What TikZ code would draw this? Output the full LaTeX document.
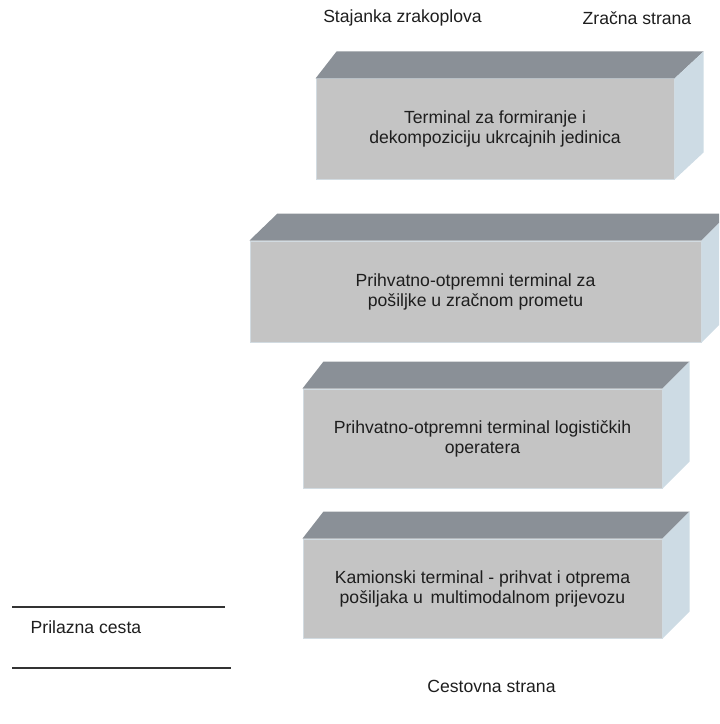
\documentclass[tikz,border=0pt]{standalone}
\usepackage{fontspec}
\setmainfont{Liberation Sans}
\usepackage{tikz}
\usetikzlibrary{positioning, calc}

\definecolor{frontgray}{HTML}{C4C4C4}
\definecolor{topgray}{HTML}{8A9097}
\definecolor{sideblue}{HTML}{CDDBE4}
\definecolor{edgeblue}{HTML}{D2DBE1}
\definecolor{textdark}{HTML}{1E1E1E}

% top and right faces of a terminal block: node, left offset, right offset
\newcommand{\blockfaces}[3]{
    \fill[topface] (#1.north west) -- ++(#2,-27) -- ($(#1.north east)+(#3,-27)$) -- (#1.north east) -- cycle;
    \fill[sideface] (#1.north east) -- ++(#3,-27) -- ($(#1.south east)+(#3,-27)$) -- (#1.south east) -- cycle;
}

\begin{document}
\begin{tikzpicture}[
        x=0.75pt, y=-0.75pt,
        every node/.style={font=\fontsize{13.2}{15}\selectfont, text=textdark},
        terminal/.style={
            rectangle,
            fill=frontgray,
            draw=edgeblue,
            line width=0.75pt,
            align=center,
            inner sep=0pt
        },
        topface/.style={fill=topgray},
        sideface/.style={fill=sideblue},
        road/.style={line width=1.1pt, draw=black!80}
    ]

    \useasboundingbox (0,0) rectangle (719,724);
    \clip (0,0) rectangle (719,724);

    % --- Labels ---
    \node (apron) at (402.5,18) {Stajanka zrakoplova};
    \node (airside) at (637,18) {Zračna strana};
    \node (landside) at (491.5,686) {Cestovna strana};

    % --- Terminal blocks ---
    \node[terminal, minimum width=268.5pt, minimum height=75pt] (formiranje) at (495,129) {
        Terminal za formiranje i\\
        dekompoziciju ukrcajnih jedinica
    };
    \blockfaces{formiranje}{21}{29}

    \node[terminal, minimum width=338.25pt, minimum height=75.75pt] (zracni) at (475.5,291.5) {
        Prihvatno-otpremni terminal za\\
        pošiljke u zračnom prometu
    };
    \blockfaces{zracni}{28}{27}

    \node[terminal, minimum width=269.25pt, minimum height=74.25pt] (logisticki) at (482.5,438.5) {
        Prihvatno-otpremni terminal logističkih\\
        operatera
    };
    \blockfaces{logisticki}{21}{27}

    \node[terminal, minimum width=269.25pt, minimum height=74.25pt] (kamionski) at (482.5,588.5) {
        Kamionski terminal - prihvat i otprema\\
        pošiljaka u\, multimodalnom prijevozu
    };
    \blockfaces{kamionski}{21}{27}

    % --- Access road ---
    \coordinate (roadA1) at (12,607);
    \coordinate (roadA2) at (225,607);
    \coordinate (roadB1) at (12,668);
    \coordinate (roadB2) at (231,668);
    \draw[road] (roadA1) -- (roadA2);
    \draw[road] (roadB1) -- (roadB2);
    \node[anchor=west] (prilazna) at (26,627) {Prilazna cesta};

\end{tikzpicture}
\end{document}
